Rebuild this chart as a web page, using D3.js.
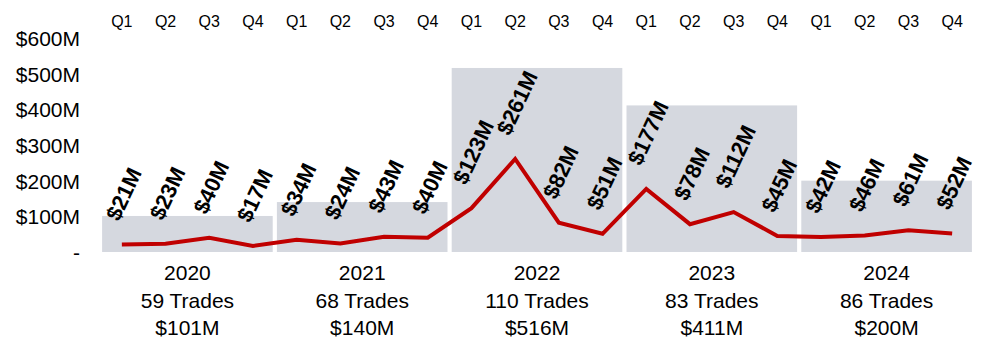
<!DOCTYPE html>
<html><head><meta charset="utf-8">
<script src="https://cdn.jsdelivr.net/npm/d3@7"></script>
<style>
html,body{margin:0;padding:0;background:#fff;}
text{font-family:"Liberation Sans",Arial,sans-serif;fill:#000;}
</style></head>
<body><svg id="c" width="982" height="341"></svg>
<script>
const years = ["2020","2021","2022","2023","2024"];
const trades = [59, 68, 110, 83, 86];
const yearTotals = [101, 140, 516, 411, 200];
const quarters = ["Q1","Q2","Q3","Q4"];
const quarterValues = [21,23,40,17, 34,24,43,40, 123,261,82,51, 177,78,112,45, 42,46,61,52];
const yTicks = [0,100,200,300,400,500,600];

const svg = d3.select("#c");
const x0 = 100, x1 = 974;
const y = d3.scaleLinear().domain([0,600]).range([252,38]);
const xYear = d3.scaleBand().domain(years).range([x0,x1]).paddingInner(0.024).paddingOuter(0.012);
const qKeys = d3.range(quarterValues.length);
const xQ = d3.scaleBand().domain(qKeys).range([x0,x1]).padding(0);
const qx = i => xQ(i) + xQ.bandwidth()/2;

// year bars
svg.append("g").selectAll("rect").data(years).join("rect")
  .attr("x", d => xYear(d)).attr("width", xYear.bandwidth())
  .attr("y", (d,i) => y(yearTotals[i])).attr("height", (d,i) => y(0) - y(yearTotals[i]))
  .attr("fill", "#d5d8df");

// y axis labels
const yAxis = d3.axisLeft(y).tickValues(yTicks).tickSize(0).tickPadding(0)
  .tickFormat(d => d === 0 ? "-" : "$" + d + "M");
const ga = svg.append("g").attr("transform","translate(80,0)").call(yAxis);
ga.select(".domain").remove();
ga.selectAll("text").attr("font-size", 21).attr("font-family", null).attr("fill","#000")
  .attr("dy","0.35em");

// quarter labels on top
svg.append("g").selectAll("text").data(qKeys).join("text")
  .attr("x", i => qx(i)).attr("y", 21).attr("dy","0.35em")
  .attr("text-anchor","middle").attr("font-size",16)
  .text(i => quarters[i % 4]);

// line
const line = d3.line().x((d,i) => qx(i)).y(d => y(d));
svg.append("path").datum(quarterValues).attr("d", line)
  .attr("fill","none").attr("stroke","#c00000").attr("stroke-width",4)
  .attr("stroke-linejoin","miter");

// data labels rotated
const ang = 65, rad = ang*Math.PI/180;
const lg = svg.append("g");
quarterValues.forEach((v,i) => {
  const t = lg.append("text").attr("font-size",22).attr("font-weight","bold")
    .attr("text-anchor","middle").attr("dominant-baseline","central")
    .text("$" + v + "M");
  const L = t.node().getComputedTextLength();
  const H = L*Math.sin(rad) + 16*Math.cos(rad);
  const cx = qx(i) + 2, cy = y(v) - 22 - H/2;
  t.attr("transform", `translate(${cx},${cy}) rotate(${-ang})`);
});

// bottom year labels
const bl = svg.append("g").selectAll("g").data(years).join("g")
  .attr("transform", d => `translate(${xYear(d)+xYear.bandwidth()/2},0)`);
bl.append("text").attr("y",273).attr("dy","0.35em").attr("text-anchor","middle").attr("font-size",21).text(d => d);
bl.append("text").attr("y",301).attr("dy","0.35em").attr("text-anchor","middle").attr("font-size",21).text((d,i) => trades[i] + " Trades");
bl.append("text").attr("y",328).attr("dy","0.35em").attr("text-anchor","middle").attr("font-size",21).text((d,i) => "$" + yearTotals[i] + "M");
</script></body></html>
